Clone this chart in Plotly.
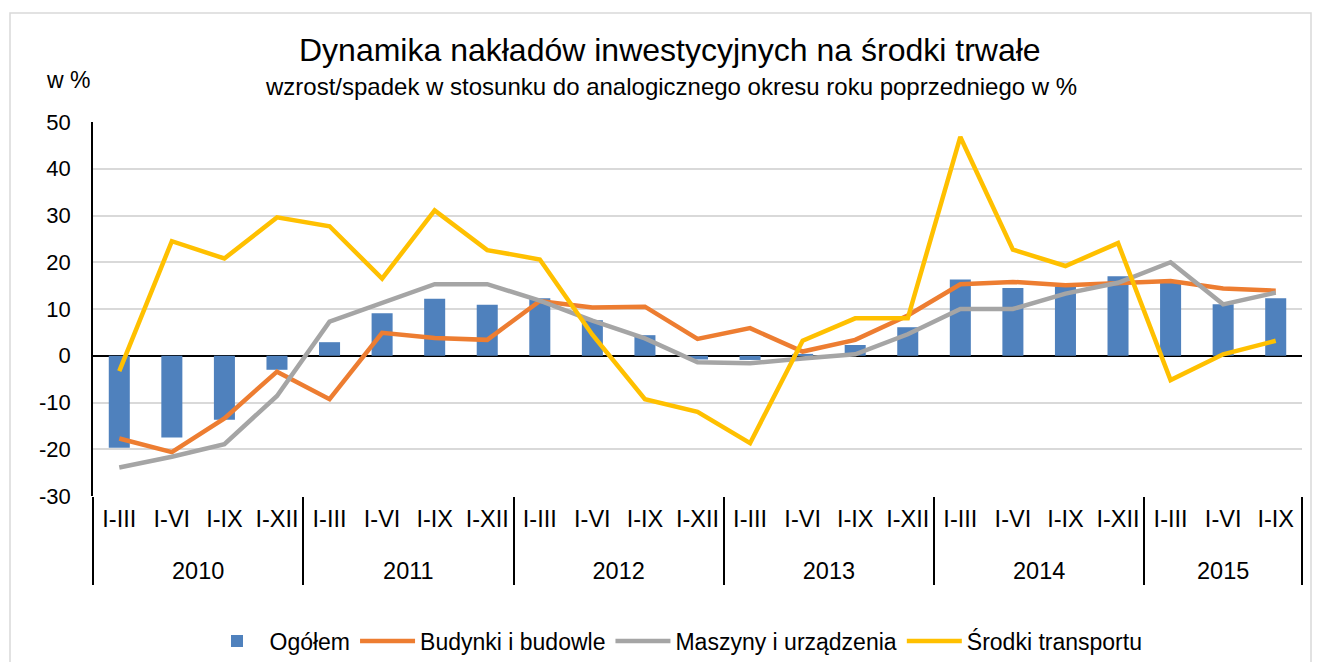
import plotly.graph_objects as go

years = ["2010"] * 4 + ["2011"] * 4 + ["2012"] * 4 + ["2013"] * 4 + ["2014"] * 4 + ["2015"] * 3
periods = ["I-III", "I-VI", "I-IX", "I-XII"] * 5 + ["I-III", "I-VI", "I-IX"]

ogolem = [-19.7, -17.5, -13.7, -3.0, 2.9, 9.1, 12.2, 10.9, 12.3, 7.6, 4.4, -0.8,
          -0.9, 0.4, 2.3, 6.1, 16.3, 14.5, 14.8, 17.0, 15.8, 11.0, 12.3]
budynki = [-17.7, -20.6, -13.4, -3.4, -9.3, 4.9, 3.8, 3.4, 11.7, 10.3, 10.5, 3.6,
           5.9, 0.9, 3.4, 8.6, 15.3, 15.8, 15.1, 15.5, 16.0, 14.4, 13.9]
maszyny = [-23.9, -21.6, -18.9, -8.6, 7.3, 11.2, 15.3, 15.3, 11.8, 7.5, 3.7, -1.4,
           -1.6, -0.6, 0.3, 4.6, 10.0, 10.0, 13.3, 15.6, 20.0, 11.0, 13.5]
transport = [-3.3, 24.5, 20.8, 29.6, 27.7, 16.5, 31.1, 22.6, 20.6, 4.5, -9.3, -12.0,
             -18.7, 3.2, 8.0, 8.0, 46.8, 22.7, 19.2, 24.1, -5.2, 0.3, 3.2]

y_tickvals = [-30, -20, -10, 0, 10, 20, 30, 40, 50]
y_ticktext = ["-30", "-20", "-10", "0", "10", "20", "30", "40", "50"]

FONT = "Arial, 'Liberation Sans', sans-serif"
# year labels pushed one line down to mimic the spacing of the original
year_labels = ["<br>" + y for y in years]
x = [year_labels, periods]

fig = go.Figure()
fig.add_trace(go.Bar(x=x, y=ogolem, name="Ogółem", marker=dict(color="#4f81bd", line=dict(width=0))))
fig.add_trace(go.Scatter(x=x, y=budynki, name="Budynki i budowle", mode="lines",
                         line=dict(color="#ed7d31", width=4.5)))
fig.add_trace(go.Scatter(x=x, y=maszyny, name="Maszyny i urządzenia", mode="lines",
                         line=dict(color="#a5a5a5", width=4.5)))
fig.add_trace(go.Scatter(x=x, y=transport, name="Środki transportu", mode="lines",
                         line=dict(color="#ffc000", width=4.5)))

OFF = 8  # page body margin
L, R, T, B = 93, 1302, 122, 496
W, H = 1321 - OFF, 670 - 2 * OFF
pw, ph = R - L, B - T


def px(xp):
    return (xp - L) / pw


def py(yp):
    return (B - yp) / ph


fig.update_layout(
    width=W, height=H,
    margin=dict(l=L - OFF, r=1321 - R, t=T - OFF, b=H - (B - OFF), autoexpand=False),
    paper_bgcolor="white", plot_bgcolor="white",
    font=dict(family=FONT, size=22, color="#000000"),
    bargap=0.6,
    showlegend=True,
    legend=dict(orientation="h", x=px(676), y=py(641), xanchor="center", yanchor="middle",
                font=dict(size=23), itemwidth=55, traceorder="normal"),
    xaxis=dict(type="multicategory", showgrid=False, showline=False, zeroline=False,
               tickangle=0, showdividers=True, dividercolor="#000000", dividerwidth=1.5,
               ticklabelstandoff=6, tickfont=dict(size=23.5)),
    yaxis=dict(range=[-30, 50], tickvals=y_tickvals, ticktext=y_ticktext,
               showgrid=True, gridcolor="#d9d9d9", gridwidth=1.5,
               zeroline=True, zerolinecolor="#000000", zerolinewidth=2,
               showline=True, linecolor="#000000", linewidth=1.5,
               ticks="", ticklabelstandoff=16, tickfont=dict(size=22)),
    annotations=[
        dict(text="Dynamika nakładów inwestycyjnych na środki trwałe", xref="paper", yref="paper",
             x=px(670), y=py(50), xanchor="center", yanchor="middle", showarrow=False,
             font=dict(size=32)),
        dict(text="wzrost/spadek w stosunku do analogicznego okresu roku poprzedniego w %",
             xref="paper", yref="paper", x=px(671), y=py(86), xanchor="center", yanchor="middle",
             showarrow=False, font=dict(size=24)),
        dict(text="w %", xref="paper", yref="paper", x=px(68), y=py(80), xanchor="center",
             yanchor="middle", showarrow=False, font=dict(size=23)),
    ],
    shapes=[
        dict(type="rect", xref="paper", yref="paper", x0=px(10), x1=px(1311), y0=py(700), y1=py(13),
             line=dict(color="#d9d9d9", width=1.5), fillcolor="rgba(0,0,0,0)", layer="below"),
    ],
)

fig.write_html("out.html")
